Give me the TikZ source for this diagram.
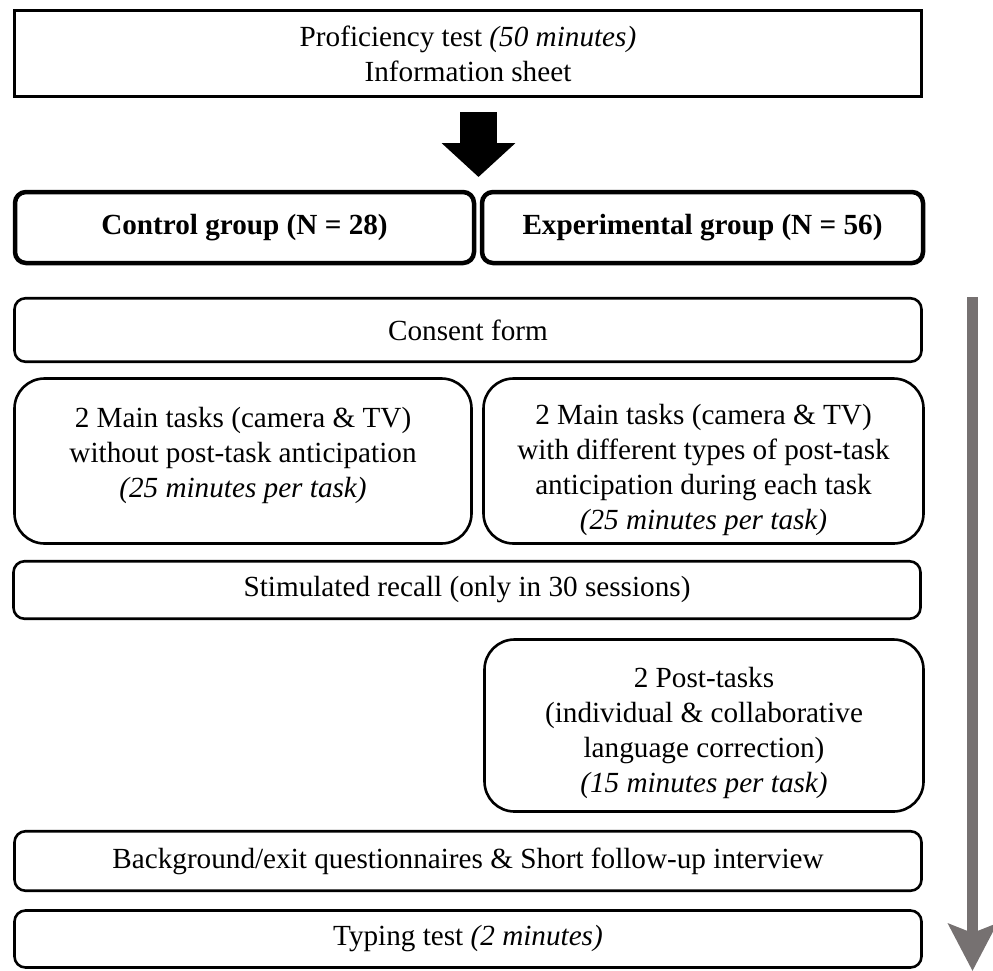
\documentclass[tikz,border=0pt]{standalone}
\usepackage{fontspec}
\setmainfont{Liberation Serif}
\usetikzlibrary{arrows.meta}
\definecolor{timegray}{RGB}{118,113,113}
\begin{document}
\begin{tikzpicture}[x=1pt,y=-1pt,
  every node/.style={font=\fontsize{29.2}{35}\selectfont, align=center, inner sep=0pt, outer sep=0pt},
  sqbox/.style={draw, line width=3pt, rectangle},
  groupbox/.style={draw, line width=4.5pt, rounded corners=11pt},
  flatbox/.style={draw, line width=2.6pt, rounded corners=11pt},
  tallbox/.style={draw, line width=2.6pt, rounded corners=30pt},
  blockarrow/.style={line width=37pt, -{Triangle[length=34pt,width=72pt]}},
  timeline/.style={timegray, line width=11pt, -{Stealth[length=47pt,width=48pt,inset=9pt]}}]
\useasboundingbox (0,0) rectangle (993,970);

% entry test
\node[sqbox, minimum width=907pt, minimum height=86pt] (prof) at (468,53.5)
  {Proficiency test \textit{(50 minutes)}\\Information sheet};

% the two groups
\node[groupbox, minimum width=459pt, minimum height=71pt] (ctrl) at (244.5,227.5)
  {\textbf{Control group (N = 28)}};
\node[groupbox, minimum width=441pt, minimum height=71pt] (expg) at (702.5,227.5)
  {\textbf{Experimental group (N = 56)}};

% arrow from the test down to the groups
\coordinate (arstart) at (478.5,112);
\coordinate (arend) at (478.5,177);
\draw[blockarrow] (arstart) -- (arend);

% procedure
\node[flatbox, minimum width=907pt, minimum height=63.5pt] (consent) at (468,330) {Consent form};

\node[tallbox, minimum width=457pt, minimum height=165pt] (mainL) at (243,461) {};
\node (mainLtext) at (243,455)
  {2 Main tasks (camera \& TV)\\without post-task anticipation\\\textit{(25 minutes per task)}};

\node[tallbox, minimum width=440pt, minimum height=165pt] (mainR) at (703.5,461) {};
\node (mainRtext) at (703.5,470)
  {2 Main tasks (camera \& TV)\\with different types of post-task\\anticipation during each task\\\textit{(25 minutes per task)}};

\node[flatbox, minimum width=907pt, minimum height=57.5pt] (recall) at (467,590)
  {Stimulated recall (only in 30 sessions)};

\node[tallbox, minimum width=439pt, minimum height=172pt] (post) at (704,725.5) {};
\node (posttext) at (704,733)
  {2 Post-tasks\\(individual \& collaborative\\language correction)\\\textit{(15 minutes per task)}};

\node[flatbox, minimum width=907pt, minimum height=59.5pt] (backg) at (468,861)
  {Background/exit questionnaires \& Short follow-up interview};

\node[flatbox, minimum width=907pt, minimum height=57pt] (typing) at (468,939)
  {Typing test \textit{(2 minutes)}};

% time axis
\coordinate (tltop) at (972.5,297);
\coordinate (tlend) at (972.5,971);
\draw[timeline] (tltop) -- (tlend);
\end{tikzpicture}
\end{document}
